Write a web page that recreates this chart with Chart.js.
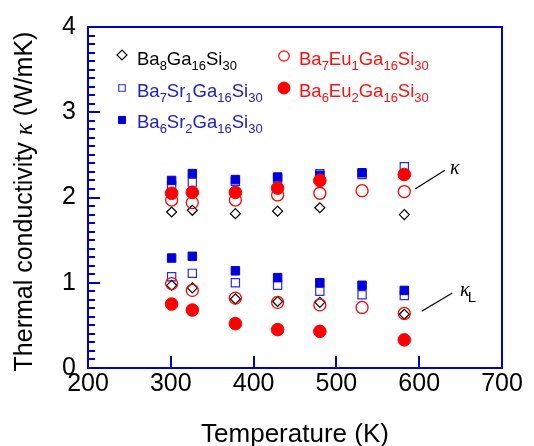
<!DOCTYPE html>
<html><head><meta charset="utf-8">
<script src="https://cdn.jsdelivr.net/npm/chart.js@4.4.1/dist/chart.umd.min.js"></script>
<style>html,body{margin:0;padding:0;background:#fff}canvas{display:block}</style>
</head><body>
<canvas id="c" width="534" height="446"></canvas>
<script>
// ---- data ----
const temperatures = [301, 326, 378, 429, 480, 531, 582];
const seriesNames = ['Ba8Ga16Si30', 'Ba7Sr1Ga16Si30', 'Ba6Sr2Ga16Si30', 'Ba7Eu1Ga16Si30', 'Ba6Eu2Ga16Si30'];
// total thermal conductivity kappa (W/mK)
const kappaBa8   = [1.83, 1.85, 1.81, 1.84, 1.88, null, 1.80];
const kappaSr1   = [2.14, 2.18, 2.19, 2.22, 2.28, 2.27, 2.36];
const kappaSr2   = [2.20, 2.28, 2.21, 2.24, 2.26, 2.29, 2.27];
const kappaEu1   = [1.97, 1.94, 1.97, 2.03, 2.05, 2.08, 2.07];
const kappaEu2   = [2.05, 2.06, 2.06, 2.11, 2.20, null, 2.27];
// lattice thermal conductivity kappa_L (W/mK)
const kappaLBa8  = [0.97, 0.94, 0.81, 0.78, 0.77, null, 0.63];
const kappaLSr1  = [1.07, 1.11, 1.00, 0.97, 0.90, 0.86, 0.85];
const kappaLSr2  = [1.29, 1.31, 1.14, 1.06, 1.00, 0.97, 0.91];
const kappaLEu1  = [0.99, 0.91, 0.82, 0.77, 0.74, 0.71, 0.64];
const kappaLEu2  = [0.75, 0.68, 0.52, 0.45, 0.43, null, 0.33];
const xTicks = [200, 300, 400, 500, 600, 700];
const yTicks = [0, 1, 2, 3, 4];
const yMinorStep = 0.1;
const xTitle = 'Temperature (K)';
const yTitleParts = ['Thermal conductivity ', 'κ', ' (W/mK)'];
// annotation anchors in data units
const kappaLine = [[595, 2.10], [631, 2.32]];
const kappaLabelAt = [643, 2.34];
const kappaLLine = [[603, 0.665], [640, 0.88]];
const kappaLLabelAt = [655, 0.91];

// ---- styles ----
const axisColor = '#0000cc';
const BLUE = '#0000dd', RED = '#ff0000';
const styles = [
  {pointStyle:'rectRot', radius:5, bg:'rgba(0,0,0,0)', border:'#000000', bw:1.2, order:3, text:'#000000'},
  {pointStyle:'rect', radius:5.8, bg:'rgba(0,0,0,0)', border:'#2a2aff', bw:1.2, order:4, text:'#2020cc'},
  {pointStyle:'rect', radius:6, bg:BLUE, border:BLUE, bw:1, order:1, text:'#2020cc'},
  {pointStyle:'circle', radius:6, bg:'rgba(0,0,0,0)', border:RED, bw:1.3, order:2, text:'#ff1010'},
  {pointStyle:'circle', radius:6.3, bg:RED, border:RED, bw:1, order:0, text:'#ff1010'}
];
const kappaSets = [kappaBa8, kappaSr1, kappaSr2, kappaEu1, kappaEu2];
const kappaLSets = [kappaLBa8, kappaLSr1, kappaLSr2, kappaLEu1, kappaLEu2];

function pts(arr){ const out=[]; arr.forEach((v,i)=>{ if(v!==null) out.push({x:temperatures[i], y:v}); }); return out; }

const datasets = seriesNames.map((name, i) => ({
  label: name,
  data: pts(kappaSets[i]).concat(pts(kappaLSets[i])),
  pointStyle: styles[i].pointStyle,
  pointRadius: styles[i].radius,
  pointBackgroundColor: styles[i].bg,
  pointBorderColor: styles[i].border,
  pointBorderWidth: styles[i].bw,
  showLine: false,
  order: styles[i].order
}));

const legendPos = [
  {mx:122, my:55,  tx:137, ty:65},
  {mx:122, my:88,  tx:137, ty:97},
  {mx:122, my:120, tx:137, ty:128},
  {mx:284, my:56,  tx:299, ty:65},
  {mx:284, my:88,  tx:299, ty:97}
];
const legendMarker = [
  {r:5, bw:1.2}, {r:4.6, bw:1.1}, {r:5, bw:1}, {r:5.2, bw:1.2}, {r:6, bw:1}
];

function drawFormula(ctx, str, x, base, color){
  const parts = str.match(/[A-Za-z]+|\d+/g);
  ctx.fillStyle = color; ctx.textBaseline = 'alphabetic'; ctx.textAlign = 'left';
  parts.forEach(p => {
    const sub = /^\d/.test(p);
    ctx.font = sub ? '13px "Liberation Sans", Arial, sans-serif' : '18.5px "Liberation Sans", Arial, sans-serif';
    ctx.fillText(p, x, sub ? base + 5 : base);
    x += ctx.measureText(p).width;
  });
}

const decor = {
  id: 'decor',
  afterDatasetsDraw(chart){
    const {ctx, chartArea:a, scales:{x, y}} = chart;
    ctx.save();
    // frame
    ctx.strokeStyle = axisColor; ctx.lineWidth = 2;
    ctx.strokeRect(a.left, a.top, a.right - a.left, a.bottom - a.top);
    // inward ticks
    ctx.beginPath();
    const n = Math.round((yTicks[yTicks.length-1] - yTicks[0]) / yMinorStep);
    for (let k = 0; k <= n; k++){
      const v = yTicks[0] + k * yMinorStep;
      const py = Math.round(y.getPixelForValue(v));
      const len = (k % 10 === 0) ? 12 : 7;
      ctx.moveTo(a.left, py); ctx.lineTo(a.left + len, py);
    }
    xTicks.slice(1, -1).forEach(v => {
      const px = Math.round(x.getPixelForValue(v));
      ctx.moveTo(px, a.bottom); ctx.lineTo(px, a.bottom - 12);
    });
    ctx.stroke();
    // legend
    seriesNames.forEach((name, i) => {
      const st = styles[i], lp = legendPos[i], lm = legendMarker[i];
      ctx.save();
      ctx.fillStyle = st.bg; ctx.strokeStyle = st.border; ctx.lineWidth = lm.bw;
      Chart.helpers.drawPoint(ctx, {pointStyle: st.pointStyle, radius: lm.r, borderWidth: lm.bw}, lp.mx, lp.my);
      ctx.restore();
      drawFormula(ctx, name, lp.tx, lp.ty, st.text);
    });
    // kappa annotations
    ctx.strokeStyle = '#000'; ctx.lineWidth = 1.2;
    ctx.beginPath();
    ctx.moveTo(x.getPixelForValue(kappaLine[0][0]), y.getPixelForValue(kappaLine[0][1]));
    ctx.lineTo(x.getPixelForValue(kappaLine[1][0]), y.getPixelForValue(kappaLine[1][1]));
    ctx.moveTo(x.getPixelForValue(kappaLLine[0][0]), y.getPixelForValue(kappaLLine[0][1]));
    ctx.lineTo(x.getPixelForValue(kappaLLine[1][0]), y.getPixelForValue(kappaLLine[1][1]));
    ctx.stroke();
    ctx.fillStyle = '#000';
    ctx.textAlign = 'center'; ctx.textBaseline = 'middle';
    ctx.font = 'italic 20px "Liberation Serif", serif';
    ctx.fillText('κ', x.getPixelForValue(kappaLabelAt[0]), y.getPixelForValue(kappaLabelAt[1]));
    const kx = x.getPixelForValue(kappaLLabelAt[0]), ky = y.getPixelForValue(kappaLLabelAt[1]);
    ctx.fillText('κ', kx, ky);
    ctx.font = '15px "Liberation Sans", Arial, sans-serif';
    ctx.textAlign = 'left';
    ctx.fillText('L', kx + 3, ky + 7);
    // axis titles
    ctx.textAlign = 'center'; ctx.textBaseline = 'alphabetic';
    ctx.font = '26px "Liberation Sans", Arial, sans-serif';
    ctx.fillText(xTitle, (a.left + a.right) / 2, 442);
    ctx.save();
    ctx.translate(32, (a.top + a.bottom) / 2 + 4);
    ctx.rotate(-Math.PI / 2);
    const fonts = ['25px "Liberation Sans", Arial, sans-serif', 'italic 25px "Liberation Serif", serif', '25px "Liberation Sans", Arial, sans-serif'];
    let total = 0;
    yTitleParts.forEach((p, i) => { ctx.font = fonts[i]; total += ctx.measureText(p).width; });
    let cx = -total / 2;
    ctx.textAlign = 'left';
    yTitleParts.forEach((p, i) => { ctx.font = fonts[i]; ctx.fillText(p, cx, 0); cx += ctx.measureText(p).width; });
    ctx.restore();
    ctx.restore();
  }
};

new Chart(document.getElementById('c'), {
  type: 'scatter',
  data: { datasets },
  options: {
    responsive: false,
    animation: false,
    events: [],
    layout: { padding: { top: 25, right: 32, left: 0, bottom: 0 } },
    plugins: { legend: { display: false }, tooltip: { enabled: false } },
    scales: {
      x: {
        type: 'linear', min: xTicks[0], max: xTicks[xTicks.length-1],
        afterBuildTicks: s => { s.ticks = xTicks.map(v => ({value: v})); },
        afterFit: s => { s.height = 78; },
        ticks: { color: '#000', padding: 1, maxRotation: 0, font: { family: '"Liberation Sans", Arial, sans-serif', size: 25 } },
        grid: { display: false, drawTicks: false },
        border: { display: false }
      },
      y: {
        type: 'linear', min: yTicks[0], max: yTicks[yTicks.length-1],
        afterBuildTicks: s => { s.ticks = yTicks.map(v => ({value: v})); },
        afterFit: s => { s.width = 88; },
        ticks: { color: '#000', padding: 12, font: { family: '"Liberation Sans", Arial, sans-serif', size: 25 } },
        grid: { display: false, drawTicks: false },
        border: { display: false }
      }
    }
  },
  plugins: [decor]
});
</script>
</body></html>
